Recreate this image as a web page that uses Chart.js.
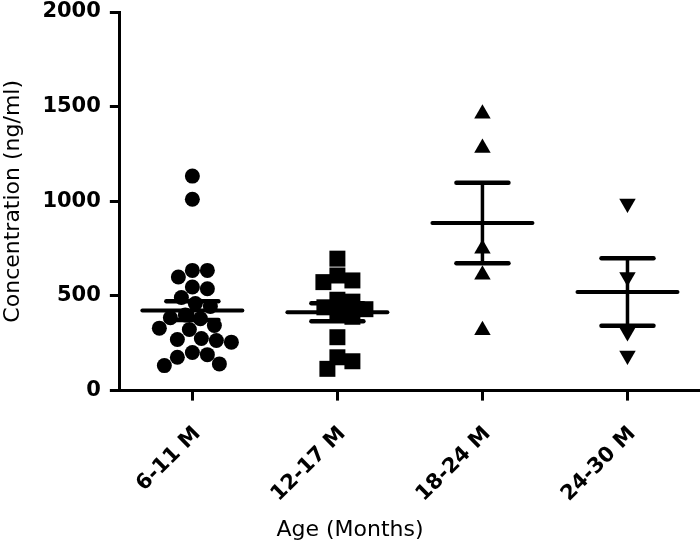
<!DOCTYPE html>
<html>
<head>
<meta charset="utf-8">
<script src="https://cdn.jsdelivr.net/npm/chart.js@4"></script>
<style>
html, body { margin: 0; padding: 0; background: #fff; }
</style>
</head>
<body>
<canvas id="myChart" width="700" height="545"></canvas>
<script>
var groupLabels = ['6-11 M', '12-17 M', '18-24 M', '24-30 M'];
var conc611 = [1133, 1011, 635, 635, 600, 547, 538, 492, 460, 444, 400, 385, 380, 344, 330, 323, 275, 270, 265, 256, 201, 190, 176, 141, 132];
var conc1217 = [697, 608, 582, 573, 480, 470, 440, 430, 400, 390, 282, 176, 155, 115];
var conc1824 = [1463, 1282, 750, 612, 319];
var conc2430 = [988, 600, 309, 185];
var yTicks = [0, 500, 1000, 1500, 2000];

var allGroups = [conc611, conc1217, conc1824, conc2430];

// spread points sideways so they don't pile up (simple beeswarm)
function swarm(values, idx) {
    var pxPerX = 145, pxPerY = 378 / 2000, minDist = 15;
    var placed = [];
    var sorted = values.slice().sort(function(a, b){ return b - a; });
    return sorted.map(function(v){
        var y = v * pxPerY, best = 0;
        for (var s = 0; s < 80; s++) {
            var cands = s === 0 ? [0] : [s, -s];
            var ok = cands.find(function(c){
                return placed.every(function(p){ return Math.hypot(p.x - c, p.y - y) >= minDist; });
            });
            if (ok !== undefined) { best = ok; break; }
        }
        placed.push({x: best, y: y});
        return {x: idx + best / pxPerX, y: v};
    });
}

var meanSem = {
    id: 'meanSem',
    afterDatasetsDraw: function(chart) {
        var ctx = chart.ctx, xs = chart.scales.x, ys = chart.scales.y;
        function line(x1, y1, x2, y2) {
            ctx.beginPath(); ctx.moveTo(x1, y1); ctx.lineTo(x2, y2); ctx.stroke();
        }
        ctx.save();
        ctx.strokeStyle = '#000';
        ctx.lineCap = 'round';
        allGroups.forEach(function(vals, i){
            var n = vals.length;
            var mean = vals.reduce(function(a, b){ return a + b; }, 0) / n;
            var sd = Math.sqrt(vals.reduce(function(a, b){ return a + (b - mean) * (b - mean); }, 0) / (n - 1));
            var sem = sd / Math.sqrt(n);
            var cx = xs.getPixelForValue(i);
            var yM = ys.getPixelForValue(mean);
            var yHi = ys.getPixelForValue(mean + sem);
            var yLo = ys.getPixelForValue(mean - sem);
            ctx.lineWidth = 4;
            line(cx - 50, yM, cx + 50, yM);
            ctx.lineWidth = 3.5;
            line(cx, yHi, cx, yLo);
            ctx.lineWidth = 4.5;
            line(cx - 26, yHi, cx + 26, yHi);
            line(cx - 26, yLo, cx + 26, yLo);
        });
        ctx.restore();
    }
};

var ctx = document.getElementById('myChart');
var myChart = new Chart(ctx, {
    type: 'scatter',
    data: {
        datasets: [
            { label: groupLabels[0], data: swarm(conc611, 0), pointStyle: 'circle', pointRadius: 7.5 },
            { label: groupLabels[1], data: swarm(conc1217, 1), pointStyle: 'rect', pointRadius: 11.3 },
            { label: groupLabels[2], data: swarm(conc1824, 2), pointStyle: 'triangle', pointRadius: 9.5 },
            { label: groupLabels[3], data: swarm(conc2430, 3), pointStyle: 'triangle', rotation: 180, pointRadius: 9.5 }
        ].map(function(d){
            d.backgroundColor = '#000';
            d.borderColor = '#000';
            d.pointBorderWidth = 0;
            d.clip = false;
            return d;
        })
    },
    options: {
        responsive: false,
        animation: false,
        layout: { autoPadding: false, padding: { top: 12, left: 0, right: 0, bottom: 0 } },
        plugins: {
            legend: { display: false },
            tooltip: { enabled: false },
            title: {
                display: true,
                text: 'Age (Months)',
                position: 'bottom',
                color: '#000',
                font: { family: 'DejaVu Sans', size: 22, weight: 'normal' },
                padding: { top: 10, bottom: 2 }
            }
        },
        scales: {
            x: {
                type: 'linear',
                min: -0.5,
                max: 3.5,
                afterBuildTicks: function(axis){
                    axis.ticks = groupLabels.map(function(l, i){ return {value: i}; });
                },
                afterFit: function(axis){
                    axis.height = 116;
                },
                ticks: {
                    callback: function(v){ return groupLabels[v]; },
                    minRotation: 45,
                    maxRotation: 45,
                    color: '#000',
                    padding: 21,
                    labelOffset: 5,
                    font: { family: 'DejaVu Sans', size: 21, weight: 'bold' }
                },
                grid: { drawOnChartArea: false, drawTicks: true, tickLength: 10, tickWidth: 3, tickColor: '#000' },
                border: { display: true, color: '#000', width: 3 }
            },
            y: {
                min: 0,
                max: 2000,
                afterBuildTicks: function(axis){
                    axis.ticks = yTicks.map(function(v){ return {value: v}; });
                },
                afterFit: function(axis){
                    axis.paddingTop = 0;
                    axis.paddingBottom = 0;
                },
                ticks: {
                    callback: function(v){ return String(v); },
                    color: '#000',
                    padding: 9,
                    font: { family: 'DejaVu Sans', size: 21, weight: 'bold' }
                },
                title: {
                    display: true,
                    text: 'Concentration (ng/ml)',
                    color: '#000',
                    font: { family: 'DejaVu Sans', size: 22, weight: 'normal' },
                    padding: { top: 0, bottom: 7 }
                },
                grid: { drawOnChartArea: false, drawTicks: true, tickLength: 10, tickWidth: 3, tickColor: '#000' },
                border: { display: true, color: '#000', width: 3 }
            }
        }
    },
    plugins: [meanSem]
});
</script>
</body>
</html>
